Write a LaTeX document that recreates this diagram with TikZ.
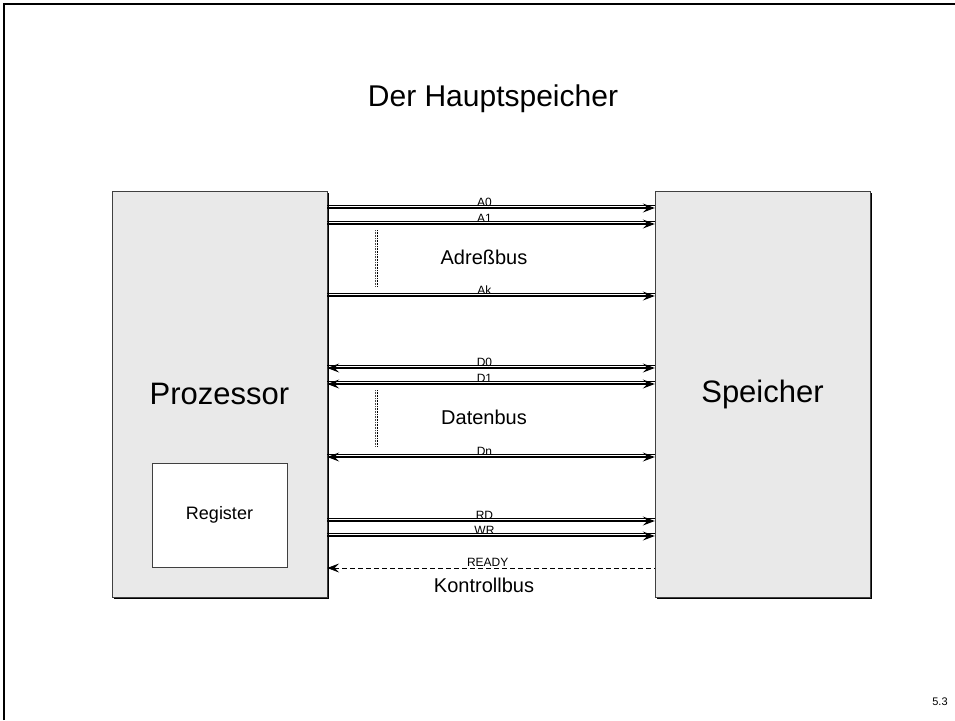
\documentclass[tikz,border=0pt]{standalone}
\usepackage{fontspec}
\setmainfont{Liberation Sans}
\usetikzlibrary{arrows.meta, positioning, shadows}
\tikzset{
  unit/.style={draw=black!75, fill=gray!17, minimum width=215pt,
               minimum height=406pt, inner sep=0pt,
               font=\fontsize{31}{36}\selectfont,
               drop shadow={shadow xshift=2pt, shadow yshift=-2pt,
                            fill=black, opacity=1}},
  regbox/.style={draw=black!75, fill=white, minimum width=135pt,
                 minimum height=104pt, font=\fontsize{18}{22}\selectfont},
  sigtip/.tip={Stealth[length=12pt, width=9pt, inset=4.5pt]},
  % two strokes: thin upper one, thick lower one
  wire/.style={line width=1.2pt,
               preaction={draw, -, line width=0.5pt,
                          transform canvas={yshift=3pt}}},
  bus/.style={wire, -sigtip},
  bibus/.style={wire, sigtip-sigtip},
  ctrl/.style={line width=0.7pt, dash pattern=on 5pt off 3pt, sigtip-},
  sig/.style={pos=.48, anchor=base, yshift=1.5pt, inner sep=0pt,
              font=\fontsize{12}{14}\selectfont},
  busname/.style={font=\fontsize{20}{24}\selectfont},
  gap/.style={densely dotted, line width=0.6pt, black!70,
              preaction={draw, densely dotted, line width=0.6pt,
                         transform canvas={xshift=2pt}}},
}
\begin{document}
\begin{tikzpicture}[x=1pt, y=-1pt]
  \useasboundingbox (0,0) rectangle (955,720);
  % slide frame
  \draw[line width=2pt] (4,720) -- (4,4) -- (955,4);
  \node[font=\fontsize{30}{36}\selectfont] (title) at (493,99) {Der Hauptspeicher};
  % processor and memory
  \node[unit] (proc) at (219.5,394) {Prozessor};
  \node[unit] (mem) at (762.5,394) {Speicher};
  \node[regbox, anchor=south, above=30pt of proc.south] (reg) {Register};
  % address bus
  \draw[bus] (proc.east |- 0,208) -- (mem.west |- 0,208) node[sig] {A0};
  \draw[bus] (proc.east |- 0,224) -- (mem.west |- 0,224) node[sig] {A1};
  \draw[bus] (proc.east |- 0,296) -- (mem.west |- 0,296) node[sig] {Ak};
  \draw[gap] (375,230) -- (375,287);
  \node[busname] (abus) at (484,257) {Adreßbus};
  % data bus
  \draw[bibus] (proc.east |- 0,368) -- (mem.west |- 0,368) node[sig] {D0};
  \draw[bibus] (proc.east |- 0,384) -- (mem.west |- 0,384) node[sig] {D1};
  \draw[bibus] (proc.east |- 0,457) -- (mem.west |- 0,457) node[sig] {Dn};
  \draw[gap] (375,390) -- (375,447);
  \node[busname] (dbus) at (484,417) {Datenbus};
  % control bus
  \draw[bus] (proc.east |- 0,521) -- (mem.west |- 0,521) node[sig] {RD};
  \draw[bus] (proc.east |- 0,536) -- (mem.west |- 0,536) node[sig] {WR};
  \draw[ctrl] (proc.east |- 0,568) -- (mem.west |- 0,568) node[sig, pos=.49] {READY};
  \node[busname] (kbus) at (484,585) {Kontrollbus};
  % page number
  \node[font=\fontsize{11}{13}\selectfont] (page) at (940,702) {5.3};
\end{tikzpicture}
\end{document}
